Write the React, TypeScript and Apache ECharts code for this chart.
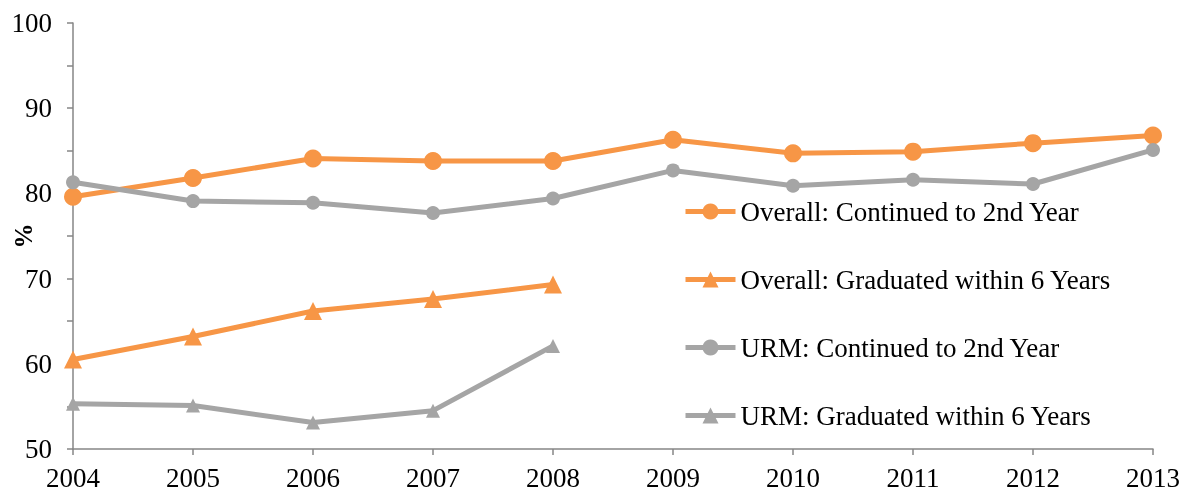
import React, { useEffect, useRef } from "react";
import * as echarts from "echarts";

const years = ["2004", "2005", "2006", "2007", "2008", "2009", "2010", "2011", "2012", "2013"];
const overallContinued = [79.6, 81.8, 84.1, 83.8, 83.8, 86.3, 84.7, 84.9, 85.9, 86.8];
const overallGraduated = [60.5, 63.2, 66.2, 67.6, 69.3, null, null, null, null, null];
const urmContinued = [81.3, 79.1, 78.9, 77.7, 79.4, 82.7, 80.9, 81.6, 81.1, 85.1];
const urmGraduated = [55.3, 55.1, 53.1, 54.5, 62.1, null, null, null, null, null];

const ORANGE = "#F79646";
const GRAY = "#A5A5A5";
const FONT = "Liberation Serif";

export default function App() {
  const ref = useRef<HTMLDivElement>(null);
  useEffect(() => {
    if (!ref.current) return;
    const chart = echarts.init(ref.current, null, { renderer: "svg" });
    const mk = (name: string, data: (number | null)[], color: string, symbol: string, size: number) => ({
      name,
      type: "line",
      data,
      symbol,
      symbolSize: size,
      showSymbol: true,
      lineStyle: { color, width: 5 },
      itemStyle: { color },
      connectNulls: false,
    });
    chart.setOption({
      animation: false,
      textStyle: { fontFamily: FONT },
      grid: { left: 73, right: 31, top: 23, bottom: 44, containLabel: false, outerBoundsMode: "none" },
      legend: {
        orient: "vertical",
        left: 678,
        top: 193,
        itemGap: 41,
        itemWidth: 50,
        itemHeight: 20,
        lineStyle: { width: 5 },
        textStyle: { fontFamily: FONT, fontSize: 27, color: "#000" },
        data: [
          "Overall: Continued to 2nd Year",
          "Overall: Graduated within 6 Years",
          "URM: Continued to 2nd Year",
          "URM: Graduated within 6 Years",
        ],
      },
      xAxis: {
        type: "category",
        data: years,
        boundaryGap: false,
        axisLine: { lineStyle: { color: "#868686", width: 1.5 } },
        axisTick: { show: true, length: 6, lineStyle: { color: "#868686", width: 1.5 } },
        axisLabel: { fontFamily: FONT, fontSize: 27, color: "#000", margin: 15 },
      },
      yAxis: {
        type: "value",
        min: 50,
        max: 100,
        interval: 10,
        name: "%",
        nameLocation: "middle",
        nameGap: 37,
        nameRotate: 90,
        nameMoveOverlap: false,
        nameTextStyle: { fontFamily: FONT, fontSize: 25, fontWeight: "bold", color: "#000" },
        axisLine: { show: true, lineStyle: { color: "#868686", width: 1.5 } },
        axisTick: { show: true, length: 6, lineStyle: { color: "#868686", width: 1.5 } },
        minorTick: { show: true, splitNumber: 2, length: 6, lineStyle: { color: "#868686", width: 1.5 } },
        splitLine: { show: false },
        minorSplitLine: { show: false },
        axisLabel: { fontFamily: FONT, fontSize: 27, color: "#000", margin: 21 },
      },
      series: [
        mk("Overall: Continued to 2nd Year", overallContinued, ORANGE, "circle", 18),
        mk("Overall: Graduated within 6 Years", overallGraduated, ORANGE, "triangle", 18),
        mk("URM: Continued to 2nd Year", urmContinued, GRAY, "circle", 14),
        mk("URM: Graduated within 6 Years", urmGraduated, GRAY, "triangle", 14),
      ],
    });
    return () => chart.dispose();
  }, []);
  return <div ref={ref} style={{ position: "fixed", left: 0, top: 0, width: 1184, height: 493 }} />;
}
